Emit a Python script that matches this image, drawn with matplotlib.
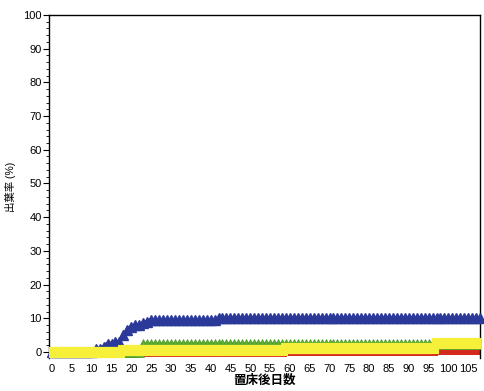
"""
plot.py
Leaf emergence rate (%) vs days after placing on bed, four step series.
"""

import numpy as np
import matplotlib
matplotlib.use('Agg')
import matplotlib.pyplot as plt
from matplotlib.ticker import MultipleLocator

plt.rcParams['font.family'] = ['Liberation Sans', 'Noto Sans CJK JP', 'DejaVu Sans']

# ── Data ──────────────────────────────────────────────────────────────────────

days = np.arange(0, 109)

# change points: (first day, value held from that day on)
blue_steps = [(0, 0.0), (11, 1.0), (13, 1.5), (14, 2.5), (16, 3.0), (18, 5.0),
              (19, 6.5), (20, 7.5), (21, 8.0), (23, 8.5), (24, 9.0),
              (25, 9.5), (42, 10.0)]
green_steps = [(0, 0.0), (23, 2.3)]
yellow_steps = [(0, 0.0), (18, 0.7), (59, 1.3), (97, 2.7)]
red_steps = [(0, 0.0), (59, 0.3), (97, 0.6)]

x_ticks = list(range(0, 106, 5))
x_label = '置床後日数'
y_label = '出葉率 (%)'


def expand(steps):
    starts = [s for s, _ in steps] + [len(days)]
    vals = [v for _, v in steps]
    return np.repeat(vals, np.diff(starts))


# ── Figure ────────────────────────────────────────────────────────────────────

fig = plt.figure(figsize=(4.84, 3.91), dpi=100)
ax = fig.add_axes([0.101, 0.084, 0.891, 0.878])

ax.plot(days, expand(red_steps), color='#d42a1e', lw=2.5, marker='s', ms=7.5,
        mew=0, zorder=2)
ax.plot(days, expand(green_steps), color='#5cae32', lw=3, marker='^', ms=7.5,
        mec='#4c9a28', mew=0.5, zorder=3)
ax.plot(days, expand(blue_steps), color='#2b3a98', lw=3, marker='^', ms=7.5,
        mec='#2b3a98', clip_on=False, zorder=4)
ax.plot(days, expand(yellow_steps), color='#f6f03a', lw=3, marker='s', ms=7,
        mec='#f6f03a', mew=0.8, zorder=5)

ax.set_xlim(-0.8, 108)
ax.set_ylim(-1.8, 100)
ax.set_xticks(x_ticks)
ax.yaxis.set_major_locator(MultipleLocator(10))
ax.yaxis.set_minor_locator(MultipleLocator(2))

for side in ('top', 'right', 'left'):
    ax.spines[side].set_linewidth(1.0)
ax.spines['bottom'].set_visible(False)

ax.tick_params(axis='x', length=0, labelsize=8, pad=4)
ax.tick_params(axis='y', which='major', length=4, labelsize=8, pad=1)
ax.tick_params(axis='y', which='minor', length=2)

ax.set_xlabel(x_label, fontsize=9, fontweight='bold', labelpad=1)
ax.set_ylabel(y_label, fontsize=7.5, labelpad=5)

fig.savefig('out.png', dpi=100, facecolor='white')
